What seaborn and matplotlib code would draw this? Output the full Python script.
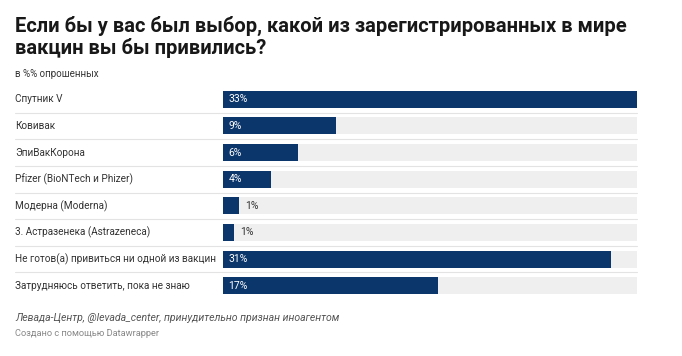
import matplotlib
matplotlib.use("Agg")
import matplotlib.pyplot as plt
import seaborn as sns
import pandas as pd

categories = [
    "Спутник V",
    "Ковивак",
    "ЭпиВакКорона",
    "Pfizer (BioNTech и Phizer)",
    "Модерна (Moderna)",
    "3. Астразенека (Astrazeneca)",
    "Не готов(а) привиться ни одной из вакцин",
    "Затрудняюсь ответить, пока не знаю",
]
values = [33, 9, 6, 3.8, 1.3, 0.9, 30.9, 17.1]
value_labels = ["33%", "9%", "6%", "4%", "1%", "1%", "31%", "17%"]
max_value = 33

title = "Если бы у вас был выбор, какой из зарегистрированных в мире\nвакцин вы бы привились?"
subtitle = "в %% опрошенных"
source = "Левада-Центр, @levada_center, принудительно признан иноагентом"
credit = "Создано с помощью Datawrapper"

sns.set_theme(style="white")
plt.rcParams["font.family"] = ["Roboto", "DejaVu Sans"]

df = pd.DataFrame({"cat": categories, "val": values, "bg": [max_value] * len(categories)})

W, H = 682, 356
fig = plt.figure(figsize=(W / 100, H / 100), dpi=100)
fig.patch.set_facecolor("white")

ax_left, ax_right = 223 / W, 637 / W
ax_top, ax_bottom = 1 - 86 / H, 1 - 299 / H
ax = fig.add_axes([ax_left, ax_bottom, ax_right - ax_left, ax_top - ax_bottom])

bar_h = 0.64
sns.barplot(data=df, y="cat", x="bg", orient="h", color="#efefef", width=bar_h,
            ax=ax, saturation=1, linewidth=0)
sns.barplot(data=df, y="cat", x="val", orient="h", color="#0b366b", width=bar_h,
            ax=ax, saturation=1, linewidth=0)

ax.set_xlim(0, max_value)
n = len(categories)
ax.set_ylim(n - 0.5, -0.5)
ax.set_xlabel("")
ax.set_ylabel("")
ax.set_xticks([])
ax.set_yticks([])
for s in ax.spines.values():
    s.set_visible(False)

# value labels
px_per_unit = (637 - 223) / max_value
for i, (v, lab) in enumerate(zip(values, value_labels)):
    if v * px_per_unit > 28:
        ax.annotate(lab, (0, i), xytext=(4, 0), textcoords="offset points",
                    ha="left", va="center", color="white", fontsize=7.5)
    else:
        ax.annotate(lab, (v, i), xytext=(4, 0), textcoords="offset points",
                    ha="left", va="center", color="#333333", fontsize=7.5)

# category labels and separators
from matplotlib.transforms import blended_transform_factory
tr = blended_transform_factory(fig.transFigure, ax.transData)
for i, c in enumerate(categories):
    fig.text(15 / W, i, c, transform=tr, ha="left", va="center",
             fontsize=7.2, color="#333333")
for i in range(n - 1):
    y = i + 0.5
    ax.plot([15 / W, ax_right], [y, y], transform=tr, color="#e3e3e3",
            lw=0.8, clip_on=False)

fig.text(15 / W, 1 - 16 / H, title, ha="left", va="top", fontsize=14.5,
         fontweight="bold", color="#181818", linespacing=1.12)
fig.text(15 / W, 1 - 74 / H, subtitle, ha="left", va="center", fontsize=7,
         color="#333333")
fig.text(15 / W, 1 - 318 / H, source, ha="left", va="center", fontsize=7.6,
         color="#555555", style="italic")
fig.text(15 / W, 1 - 334 / H, credit, ha="left", va="center", fontsize=6.7,
         color="#888888")

fig.savefig("out.png", dpi=100, facecolor="white")
